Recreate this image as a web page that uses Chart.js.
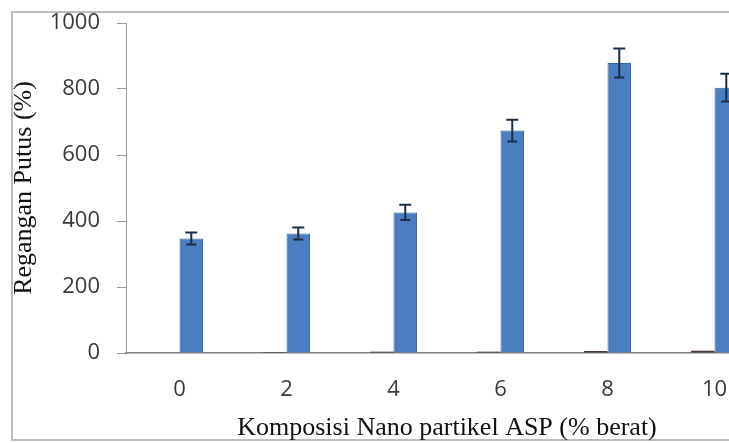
<!DOCTYPE html>
<html>
<head>
<meta charset="utf-8">
<script src="https://cdn.jsdelivr.net/npm/chart.js@4.4.1/dist/chart.umd.min.js"></script>
<style>
    html, body { margin: 0; padding: 0; background: #fff; overflow: hidden; width: 729px; height: 443px; }
    #frame { position: absolute; left: 11px; top: 11px; width: 800px; height: 426px; border: 2px solid #bcbcbc; }
    #wrap { position: absolute; left: 0; top: 0; width: 800px; height: 443px; }
</style>
</head>
<body>
<div id="frame"></div>
<div id="wrap"><canvas id="strain-chart"></canvas></div>
<script>
// komposisi nano partikel ASP (% berat)
const categories = ['0', '2', '4', '6', '8', '10'];
// regangan putus (%) dan error bar
const strainValues = [347, 362, 426, 674, 879, 804];
const strainErrors = [18, 18, 23, 33, 44, 42];
// seri kedua hampir nol (hanya garis tipis di dasar)
const baseValues = [0, 3, 4, 4, 6, 7];
const yTicks = [0, 200, 400, 600, 800, 1000];

const errorBars = {
    id: 'errorBars',
    afterDatasetsDraw(chart) {
        const ctx = chart.ctx;
        const yScale = chart.scales.y;
        const meta = chart.getDatasetMeta(1);
        ctx.save();
        ctx.strokeStyle = '#1b2d47';
        ctx.lineWidth = 2;
        meta.data.forEach((bar, i) => {
            const top = yScale.getPixelForValue(strainValues[i] + strainErrors[i]);
            const bottom = yScale.getPixelForValue(strainValues[i] - strainErrors[i]);
            ctx.beginPath();
            ctx.moveTo(bar.x, top);
            ctx.lineTo(bar.x, bottom);
            ctx.moveTo(bar.x - 6, top);
            ctx.lineTo(bar.x + 6, top);
            ctx.moveTo(bar.x - 5, bottom);
            ctx.lineTo(bar.x + 5, bottom);
            ctx.stroke();
        });
        ctx.restore();
    }
};

const ctx = document.getElementById('strain-chart').getContext('2d');
new Chart(ctx, {
    type: 'bar',
    data: {
        labels: categories,
        datasets: [
            {
                data: baseValues,
                backgroundColor: '#4b3a36',
                borderWidth: 0
            },
            {
                data: strainValues,
                backgroundColor: '#4a7ec1',
                borderColor: '#3563a0',
                borderWidth: 1
            }
        ]
    },
    plugins: [errorBars],
    options: {
        responsive: true,
        maintainAspectRatio: false,
        animation: false,
        layout: {
            padding: { left: 11, top: 23, right: 32, bottom: 0 }
        },
        datasets: {
            bar: {
                categoryPercentage: 0.44,
                barPercentage: 1
            }
        },
        plugins: {
            legend: { display: false },
            tooltip: { enabled: false }
        },
        scales: {
            x: {
                afterFit(scale) { scale.height = 90; },
                grid: { display: false },
                border: { display: true, color: '#808080', width: 1.5 },
                ticks: {
                    padding: 16,
                    color: '#3a3a3a',
                    font: { family: 'Open Sans', size: 22 }
                },
                title: {
                    display: true,
                    text: 'Komposisi Nano partikel ASP (% berat)',
                    color: '#111',
                    padding: { top: 0, bottom: 2 },
                    font: { family: 'Liberation Serif', size: 26, lineHeight: 1 }
                }
            },
            y: {
                min: 0,
                max: 1000,
                afterFit(scale) {
                    scale.width = 115;
                    scale.paddingTop = 8;
                    scale.paddingBottom = 0;
                },
                afterBuildTicks(scale) {
                    scale.ticks = yTicks.map(v => ({ value: v }));
                },
                grid: {
                    drawOnChartArea: false,
                    drawTicks: true,
                    tickLength: 9,
                    color: '#9a9a9a'
                },
                border: { display: true, color: '#9a9a9a', width: 1 },
                ticks: {
                    padding: 17,
                    color: '#3a3a3a',
                    font: { family: 'Open Sans', size: 22 },
                    callback: (value) => String(value)
                },
                title: {
                    display: true,
                    text: 'Regangan Putus (%)',
                    color: '#111',
                    padding: { top: 0, bottom: 0 },
                    font: { family: 'Liberation Serif', size: 26, lineHeight: 1 }
                }
            }
        }
    }
});
</script>
</body>
</html>
